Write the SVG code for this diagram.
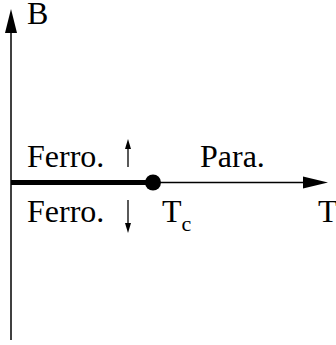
<svg xmlns="http://www.w3.org/2000/svg" width="336" height="345" viewBox="0 0 336 345">
<style>
text{font-family:"Liberation Serif","Times New Roman",serif;font-size:32px;fill:#000}
.ax{stroke:#000;stroke-width:1.5;fill:none}
.sm{stroke:#000;stroke-width:1.3;fill:none}
</style>
<g id="axes">
<line class="ax" x1="11" y1="340" x2="11" y2="30"/>
<polygon points="11,9 5,33 17,33" fill="#000"/>
<line class="ax" x1="11" y1="182.5" x2="306" y2="182.5"/>
<polygon points="328,182.5 303,176.5 303,188.5" fill="#000"/>
</g>
<g id="connectors">
<line x1="11" y1="182.5" x2="153" y2="182.5" stroke="#000" stroke-width="5"/>
<line class="sm" x1="128" y1="147" x2="128" y2="167"/>
<polygon points="128,139 125,149 131,149" fill="#000"/>
<line class="sm" x1="128" y1="200" x2="128" y2="223"/>
<polygon points="128,233 125,223 131,223" fill="#000"/>
</g>
<g id="tc-point"><circle cx="153" cy="182.5" r="8" fill="#000"/></g>
<g id="labels">
<text x="27" y="24">B</text>
<text x="27" y="167">Ferro.</text>
<text x="27" y="222">Ferro.</text>
<text x="200" y="167">Para.</text>
<text x="162" y="222">T<tspan font-size="22" dy="9">c</tspan></text>
<text x="318" y="222">T</text>
</g>
</svg>
